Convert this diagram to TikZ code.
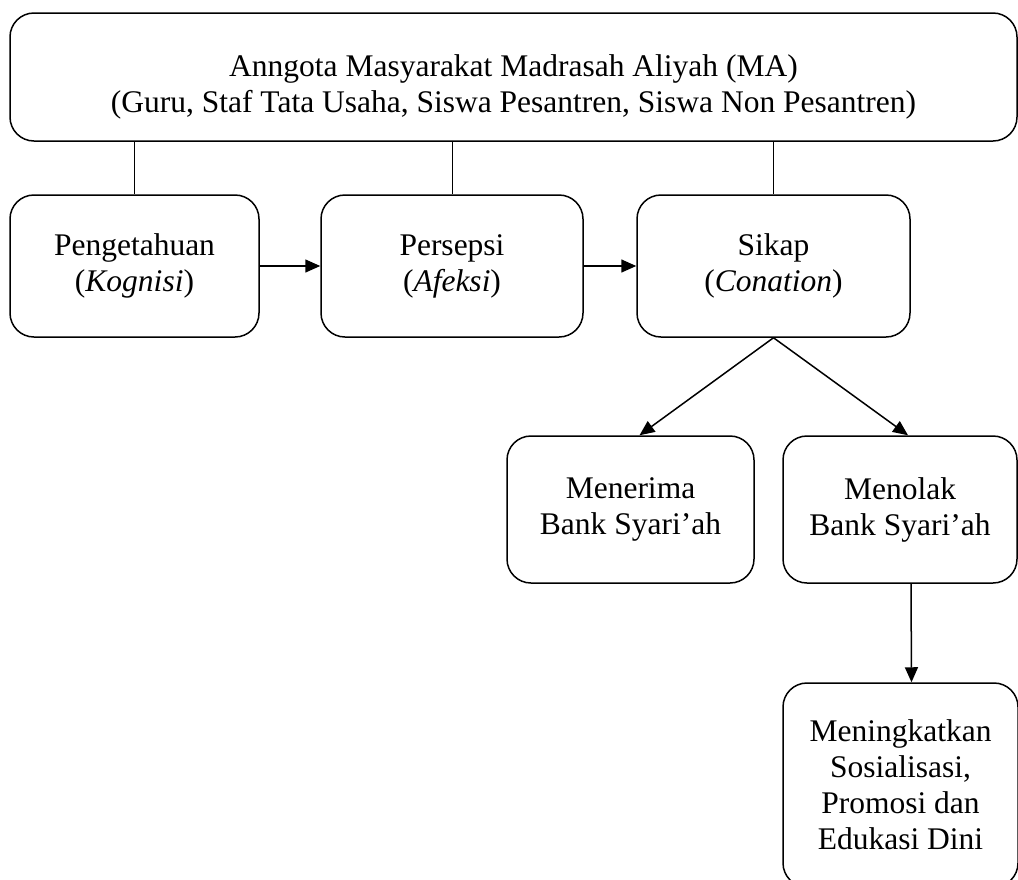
\documentclass[tikz,border=0pt]{standalone}
\usepackage{fontspec}
\setmainfont{Liberation Serif}
\usetikzlibrary{arrows.meta}

\begin{document}
\begin{tikzpicture}[x=1pt, y=-1pt,
        kotak/.style={draw, rounded corners=24pt, line width=1.5pt, align=center, inner sep=0pt, font=\fontsize{31.5}{36}\selectfont},
        panah/.style={-{Triangle[length=15pt,width=13pt]}, line width=1.5pt},
        garis/.style={line width=1pt}]
        \useasboundingbox (0,0) rectangle (1018,879);
        \clip (0,0) rectangle (1018,879);

        % Top box
        \node[kotak, minimum width=1007pt, minimum height=128pt,
            label={[kotak, draw=none, yshift=-10pt]center:Anngota Masyarakat Madrasah Aliyah (MA)\\(Guru, Staf Tata Usaha, Siswa Pesantren, Siswa Non Pesantren)}] (ma) at (513.5,77) {};

        % Middle row
        \node[kotak, minimum width=249pt, minimum height=142pt] (tahu) at (134.5,266) {Pengetahuan\\(\textit{Kognisi})};
        \node[kotak, minimum width=262pt, minimum height=142pt] (sepsi) at (452,266) {Persepsi\\(\textit{Afeksi})};
        \node[kotak, minimum width=273pt, minimum height=142pt] (sikap) at (773.5,266) {Sikap\\(\textit{Conation})};

        % Outcomes
        \node[kotak, minimum width=247pt, minimum height=147pt] (terima) at (630.5,509.5) {Menerima\\Bank Syari’ah};
        \node[kotak, minimum width=234pt, minimum height=147pt] (tolak) at (900,509.5) {Menolak\\Bank Syari’ah};
        \node[kotak, minimum width=235pt, minimum height=204pt] (dini) at (900.5,785) {Meningkatkan\\Sosialisasi,\\Promosi dan\\Edukasi Dini};

        % Lines from top box
        \draw[garis] (ma.south -| tahu.north) -- (tahu.north);
        \draw[garis] (ma.south -| sepsi.north) -- (sepsi.north);
        \draw[garis] (ma.south -| sikap.north) -- (sikap.north);

        % Arrows
        \draw[panah] (tahu.east) -- (sepsi.west);
        \draw[panah] (sepsi.east) -- (sikap.west);
        \draw[panah] (sikap.south) -- ([xshift=9pt]terima.north);
        \draw[panah] (sikap.south) -- ([xshift=8pt]tolak.north);
        \draw[panah] ([xshift=11pt]tolak.south) -- ([xshift=11pt]dini.north);
    \end{tikzpicture}
\end{document}
